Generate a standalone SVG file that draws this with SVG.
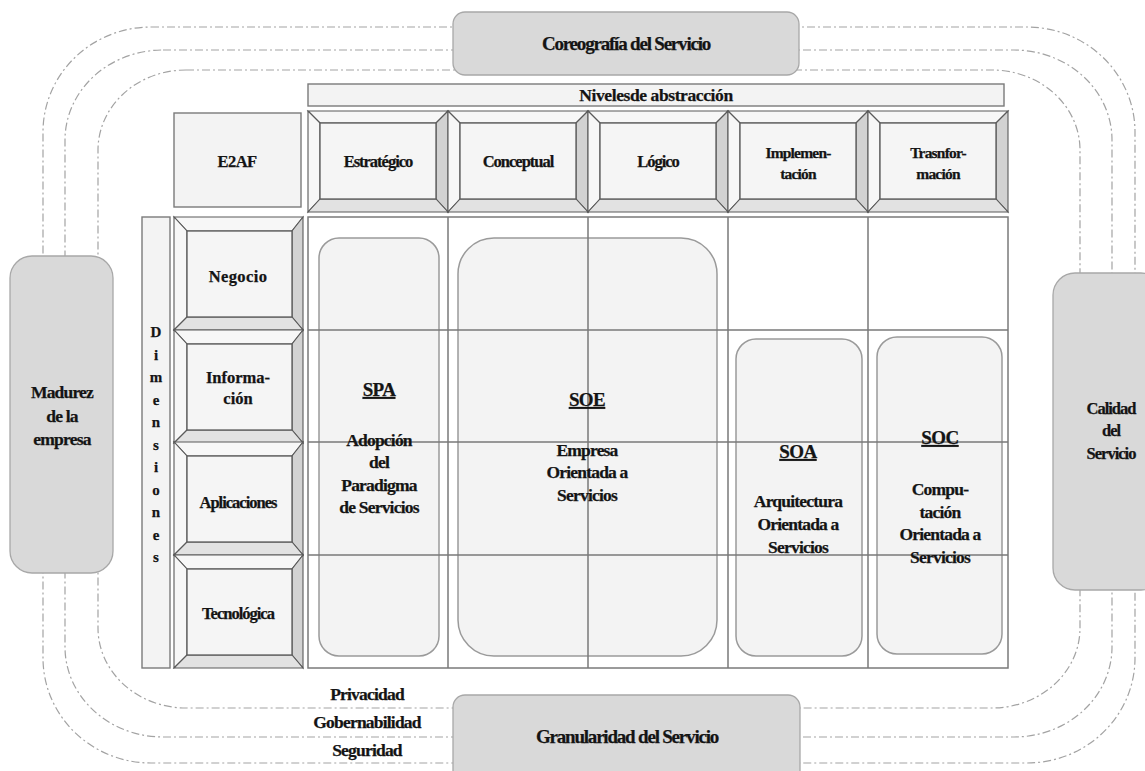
<svg xmlns="http://www.w3.org/2000/svg" width="1145" height="771" viewBox="0 0 1145 771">
  <style>
    text { font-family: "Liberation Serif", "Times New Roman", serif; font-weight: bold; fill: #141414; stroke: #141414; stroke-width: 0.25; text-anchor: middle; }
    .t15 { font-size: 16.5px; letter-spacing: -1px; }
    .t14 { font-size: 15.5px; letter-spacing: -0.8px; }
    .t16 { font-size: 17.5px; letter-spacing: -0.8px; }
    .t17 { font-size: 19px; letter-spacing: -1.2px; }
    .ttl { font-size: 19px; letter-spacing: -0.6px; text-decoration: underline; }
    .dim { font-size: 15px; }
    .ring { fill: none; stroke: #a3a3a3; stroke-width: 1.2; stroke-dasharray: 8 3 2 3; }
    .gbox { fill: #d9d9d9; stroke: #a8a8a8; stroke-width: 1.3; }
    .plain { fill: #f3f3f3; stroke: #7a7a7a; stroke-width: 1.4; }
    .soft { fill: #f3f3f3; stroke: #9a9a9a; stroke-width: 1.5; }
    .face-lt { fill: #f7f7f7; stroke: #5a5a5a; stroke-width: 1.1; }
    .face-md { fill: #e2e2e2; stroke: #5a5a5a; stroke-width: 1.1; }
    .face-dk { fill: #d2d2d2; stroke: #5a5a5a; stroke-width: 1.1; }
    .face-in { fill: #f5f5f5; stroke: #5a5a5a; stroke-width: 1.3; }
    .grid { fill: none; stroke: #7a7a7a; stroke-width: 1.5; }
  </style>
  <defs>
    <!-- bevelled header cell, 140 x 101 -->
    <g id="bevelH">
      <polygon class="face-lt" points="0,0 140,0 128,12 12,12"/>
      <polygon class="face-lt" points="0,0 0,101 12,88 12,12"/>
      <polygon class="face-dk" points="140,0 140,101 128,88 128,12"/>
      <polygon class="face-md" points="0,101 140,101 128,88 12,88"/>
      <rect class="face-in" x="12" y="12" width="116" height="76"/>
    </g>
    <!-- bevelled dimension cell, 129 x 113 -->
    <g id="bevelV">
      <polygon class="face-lt" points="0,0 129,0 118,14 13,14"/>
      <polygon class="face-lt" points="0,0 0,113 13,100 13,14"/>
      <polygon class="face-dk" points="129,0 129,113 118,100 118,14"/>
      <polygon class="face-md" points="0,113 129,113 118,100 13,100"/>
      <rect class="face-in" x="13" y="14" width="105" height="86"/>
    </g>
  </defs>

  <rect width="1145" height="771" fill="#ffffff"/>

  <!-- concentric dash-dot rings -->
  <g id="connectors">
    <rect class="ring" x="43" y="27" width="1092" height="736" rx="108" ry="105"/>
    <rect class="ring" x="65" y="50" width="1047" height="687" rx="98" ry="90"/>
    <rect class="ring" x="98" y="70" width="982" height="638" rx="88" ry="80"/>
  </g>

  <!-- outer quality boxes -->
  <g id="coreografia">
    <rect class="gbox" x="453" y="12" width="346" height="63" rx="12"/>
    <text class="t17" x="626" y="50">Coreografía del Servicio</text>
  </g>
  <g id="granularidad">
    <rect class="gbox" x="453" y="695" width="347" height="95" rx="12"/>
    <text class="t17" x="627" y="743">Granularidad del Servicio</text>
  </g>
  <g id="madurez">
    <rect class="gbox" x="10" y="256" width="103" height="317" rx="22"/>
    <text class="t16" x="62" y="398">Madurez</text>
    <text class="t16" x="62" y="422">de la</text>
    <text class="t16" x="62" y="445">empresa</text>
  </g>
  <g id="calidad">
    <rect class="gbox" x="1053" y="273" width="110" height="317" rx="22"/>
    <text class="t15" x="1111" y="414">Calidad</text>
    <text class="t15" x="1111" y="436">del</text>
    <text class="t15" x="1111" y="459">Servicio</text>
  </g>

  <!-- abstraction levels header -->
  <g id="niveles">
    <rect class="plain" x="308" y="84" width="696" height="22"/>
    <text class="t16" x="656" y="101" style="letter-spacing:-0.4px">Nivelesde abstracción</text>
  </g>
  <g id="e2af">
    <rect class="plain" x="174" y="113" width="127" height="94"/>
    <text class="t15" x="237" y="167" style="letter-spacing:-0.5px">E2AF</text>
  </g>
  <g id="estrategico">
    <use href="#bevelH" x="308" y="111"/>
    <text class="t15" x="378" y="167">Estratégico</text>
  </g>
  <g id="conceptual">
    <use href="#bevelH" x="448" y="111"/>
    <text class="t15" x="518" y="167">Conceptual</text>
  </g>
  <g id="logico">
    <use href="#bevelH" x="588" y="111"/>
    <text class="t15" x="658" y="167">Lógico</text>
  </g>
  <g id="implementacion">
    <use href="#bevelH" x="728" y="111"/>
    <text class="t14" x="798" y="158">Implemen-</text>
    <text class="t14" x="798" y="179">tación</text>
  </g>
  <g id="transformacion">
    <use href="#bevelH" x="868" y="111"/>
    <text class="t14" x="938" y="158">Trasnfor-</text>
    <text class="t14" x="938" y="179">mación</text>
  </g>

  <!-- dimensions column -->
  <g id="dimensiones">
    <rect class="plain" x="142" y="217" width="28" height="451" fill="#f6f6f6"/>
    <text class="dim" x="156" y="337">D</text>
    <text class="dim" x="156" y="359.5">i</text>
    <text class="dim" x="156" y="382">m</text>
    <text class="dim" x="156" y="404.5">e</text>
    <text class="dim" x="156" y="427">n</text>
    <text class="dim" x="156" y="449.5">s</text>
    <text class="dim" x="156" y="472">i</text>
    <text class="dim" x="156" y="494.5">o</text>
    <text class="dim" x="156" y="517">n</text>
    <text class="dim" x="156" y="539.5">e</text>
    <text class="dim" x="156" y="562">s</text>
  </g>
  <g id="negocio">
    <use href="#bevelV" x="174" y="217"/>
    <text class="t15" x="238" y="282" style="letter-spacing:0.4px">Negocio</text>
  </g>
  <g id="informacion">
    <use href="#bevelV" x="174" y="330"/>
    <text class="t15" x="238" y="383" style="letter-spacing:0px">Informa-</text>
    <text class="t15" x="238" y="404" style="letter-spacing:0px">ción</text>
  </g>
  <g id="aplicaciones">
    <use href="#bevelV" x="174" y="442"/>
    <text class="t15" x="238" y="508">Aplicaciones</text>
  </g>
  <g id="tecnologica">
    <use href="#bevelV" x="174" y="555"/>
    <text class="t15" x="238" y="619">Tecnológica</text>
  </g>

  <!-- service orientation regions -->
  <g id="spa">
    <rect class="soft" x="319" y="238" width="120" height="418" rx="20"/>
  </g>
  <g id="soe">
    <rect class="soft" x="458" y="238" width="259" height="418" rx="36"/>
  </g>
  <g id="soa">
    <rect class="soft" x="736" y="339" width="126" height="317" rx="20"/>
  </g>
  <g id="soc">
    <rect class="soft" x="877" y="337" width="125" height="317" rx="20"/>
  </g>

  <!-- matrix grid -->
  <g id="grid">
    <rect class="grid" x="308" y="217" width="700" height="451"/>
    <path class="grid" d="M448 217V668M588 217V668M728 217V668M868 217V668M308 330H1008M308 442H1008M308 555H1008"/>
  </g>

  <!-- region labels -->
  <g id="spa-label">
    <text class="ttl" x="379" y="396">SPA</text>
    <text class="t16" x="379" y="446">Adopción</text>
    <text class="t16" x="379" y="468">del</text>
    <text class="t16" x="379" y="491">Paradigma</text>
    <text class="t16" x="379" y="513">de Servicios</text>
  </g>
  <g id="soe-label">
    <text class="ttl" x="587" y="406">SOE</text>
    <text class="t16" x="587" y="456">Empresa</text>
    <text class="t16" x="587" y="478">Orientada a</text>
    <text class="t16" x="587" y="501">Servicios</text>
  </g>
  <g id="soa-label">
    <text class="ttl" x="798" y="458">SOA</text>
    <text class="t16" x="798" y="507">Arquitectura</text>
    <text class="t16" x="798" y="530">Orientada a</text>
    <text class="t16" x="798" y="553">Servicios</text>
  </g>
  <g id="soc-label">
    <text class="ttl" x="940" y="444">SOC</text>
    <text class="t16" x="940" y="495">Compu-</text>
    <text class="t16" x="940" y="518">tación</text>
    <text class="t16" x="940" y="540">Orientada a</text>
    <text class="t16" x="940" y="563">Servicios</text>
  </g>

  <!-- cross-cutting concerns -->
  <g id="transversales">
    <text class="t16" x="367" y="700">Privacidad</text>
    <text class="t16" x="367" y="728">Gobernabilidad</text>
    <text class="t16" x="367" y="756">Seguridad</text>
  </g>
</svg>
